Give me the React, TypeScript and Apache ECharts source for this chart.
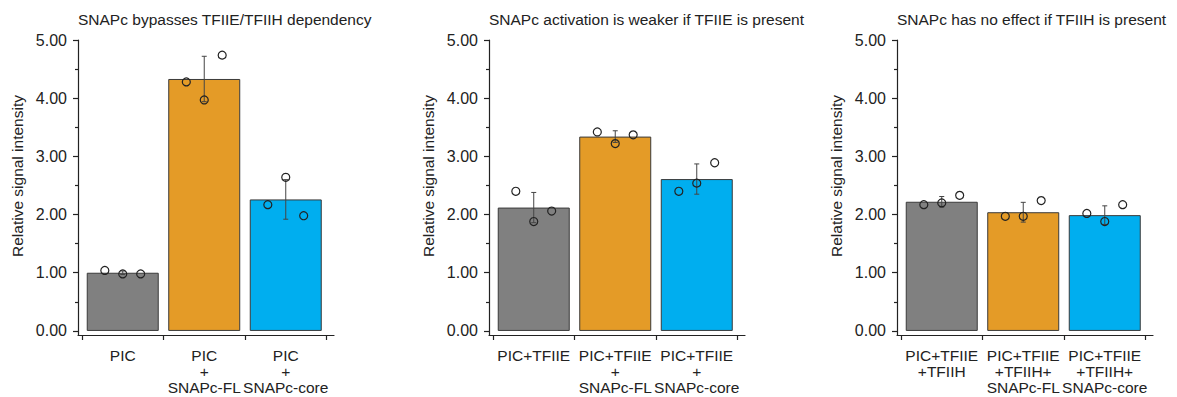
import React, { useEffect, useRef } from "react";
import * as echarts from "echarts";

const titles = [
  "SNAPc bypasses TFIIE/TFIIH dependency",
  "SNAPc activation is weaker if TFIIE is present",
  "SNAPc has no effect if TFIIH is present",
];
const yAxisName = "Relative signal intensity";

const categories1 = ["PIC", "PIC\n+\nSNAPc-FL", "PIC\n+\nSNAPc-core"];
const categories2 = ["PIC+TFIIE", "PIC+TFIIE\n+\nSNAPc-FL", "PIC+TFIIE\n+\nSNAPc-core"];
const categories3 = ["PIC+TFIIE\n+TFIIH", "PIC+TFIIE\n+TFIIH+\nSNAPc-FL", "PIC+TFIIE\n+TFIIH+\nSNAPc-core"];

const means1 = [1.0, 4.33, 2.26];
const sd1 = [0.03, 0.39, 0.34];
const points1 = [
  [1.04, 0.98, 0.98],
  [4.28, 3.97, 4.74],
  [2.17, 2.64, 1.98],
];

const means2 = [2.12, 3.34, 2.61];
const sd2 = [0.26, 0.1, 0.26];
const points2 = [
  [2.4, 1.88, 2.06],
  [3.42, 3.22, 3.37],
  [2.4, 2.54, 2.89],
];

const means3 = [2.22, 2.04, 1.99];
const sd3 = [0.09, 0.17, 0.16];
const points3 = [
  [2.17, 2.2, 2.33],
  [1.97, 1.97, 2.24],
  [2.02, 1.88, 2.17],
];

const yTickValues = [0, 1, 2, 3, 4, 5];
const yMinorTickValues = [0.5, 1.5, 2.5, 3.5, 4.5];
const xTickValues = [-0.5, 0.5, 1.5, 2.5];
const xLabelValues = [0, 1, 2];
const jitter = [-0.22, 0, 0.22];
const barColors = ["#808080", "#E49B27", "#00AEEF"];

const panels = [
  { title: titles[0], cats: categories1, means: means1, sd: sd1, points: points1, left: 78 },
  { title: titles[1], cats: categories2, means: means2, sd: sd2, points: points2, left: 489 },
  { title: titles[2], cats: categories3, means: means3, sd: sd3, points: points3, left: 897 },
];

const FONT = "'Liberation Sans', Arial, Helvetica, sans-serif";
const INK = "#222";

export default function App() {
  const ref = useRef<HTMLDivElement>(null);
  useEffect(() => {
    if (!ref.current) return;
    const chart = echarts.init(ref.current, undefined, { renderer: "svg" });
    const lineStyle = { color: INK, width: 1.2 };
    const option: any = {
      animation: false,
      backgroundColor: "#fff",
      title: panels.map((p) => ({
        text: p.title,
        left: p.left,
        top: 11,
        padding: 0,
        textStyle: { fontSize: 15.5, fontWeight: "normal", color: INK, fontFamily: FONT },
      })),
      grid: panels.map((p) => ({ left: p.left, top: 40, width: 256, height: 295 })),
      xAxis: panels.map((p, i) => ({
        type: "value",
        gridIndex: i,
        min: -0.549,
        max: 2.592,
        splitLine: { show: false },
        axisLine: { show: true, onZero: false, lineStyle },
        axisTick: { show: true, customValues: xTickValues, length: 5, lineStyle },
        axisLabel: {
          customValues: xLabelValues,
          formatter: (v: number) => p.cats[Math.round(v)] ?? "",
          margin: 12,
          fontSize: 15.5,
          lineHeight: 16,
          color: INK,
          fontFamily: FONT,
        },
      })),
      yAxis: panels.flatMap((p, i) => [
        {
          type: "value",
          gridIndex: i,
          min: -0.07,
          max: 5,
          splitLine: { show: false },
          axisLine: { show: true, onZero: false, lineStyle },
          axisTick: { show: true, customValues: yTickValues, length: 5, lineStyle },
          axisLabel: {
            customValues: yTickValues,
            formatter: (v: number) => v.toFixed(2),
            margin: 11,
            fontSize: 16,
            color: INK,
            fontFamily: FONT,
          },
        },
        {
          type: "value",
          gridIndex: i,
          min: -0.07,
          max: 5,
          position: "left",
          offset: 0,
          splitLine: { show: false },
          axisLine: { show: false, onZero: false },
          axisTick: { show: true, customValues: yMinorTickValues, length: 3, lineStyle },
          axisLabel: { show: false },
        },
      ]),
      series: panels.flatMap((p, i) => [
        {
          type: "bar",
          xAxisIndex: i,
          yAxisIndex: 2 * i,
          barWidth: 72,
          data: p.means.map((m, j) => ({ value: [j, m], itemStyle: { color: barColors[j] } })),
          itemStyle: { borderColor: "#3a3a3a", borderWidth: 1 },
          z: 2,
        },
        {
          type: "custom",
          xAxisIndex: i,
          yAxisIndex: 2 * i,
          z: 3,
          data: p.means.map((m, j) => [j, m - p.sd[j], m + p.sd[j]]),
          renderItem: (params: any, api: any) => {
            const x = api.value(0);
            const lo = api.coord([x, api.value(1)]);
            const hi = api.coord([x, api.value(2)]);
            const cap = 2.5;
            const style = { stroke: "#444", lineWidth: 1 };
            return {
              type: "group",
              children: [
                { type: "line", shape: { x1: hi[0], y1: hi[1], x2: lo[0], y2: lo[1] }, style },
                { type: "line", shape: { x1: hi[0] - cap, y1: hi[1], x2: hi[0] + cap, y2: hi[1] }, style },
                { type: "line", shape: { x1: lo[0] - cap, y1: lo[1], x2: lo[0] + cap, y2: lo[1] }, style },
              ],
            };
          },
        },
        {
          type: "scatter",
          xAxisIndex: i,
          yAxisIndex: 2 * i,
          z: 4,
          symbol: "circle",
          symbolSize: 8,
          itemStyle: { color: "rgba(0,0,0,0)", borderColor: INK, borderWidth: 1.2, opacity: 1 },
          data: p.points.flatMap((arr, j) => arr.map((v, k) => [j + jitter[k], v])),
        },
      ]),
      graphic: panels.map((p) => ({
        type: "text",
        x: p.left - 61,
        y: 176,
        rotation: Math.PI / 2,
        style: {
          text: yAxisName,
          fontSize: 15.5,
          fill: INK,
          align: "center",
          verticalAlign: "middle",
          fontFamily: FONT,
        },
      })),
    };
    chart.setOption(option);
    return () => chart.dispose();
  }, []);
  return (
    <div
      ref={ref}
      style={{ position: "fixed", left: 0, top: 0, width: 1177, height: 397, background: "#fff" }}
    />
  );
}
